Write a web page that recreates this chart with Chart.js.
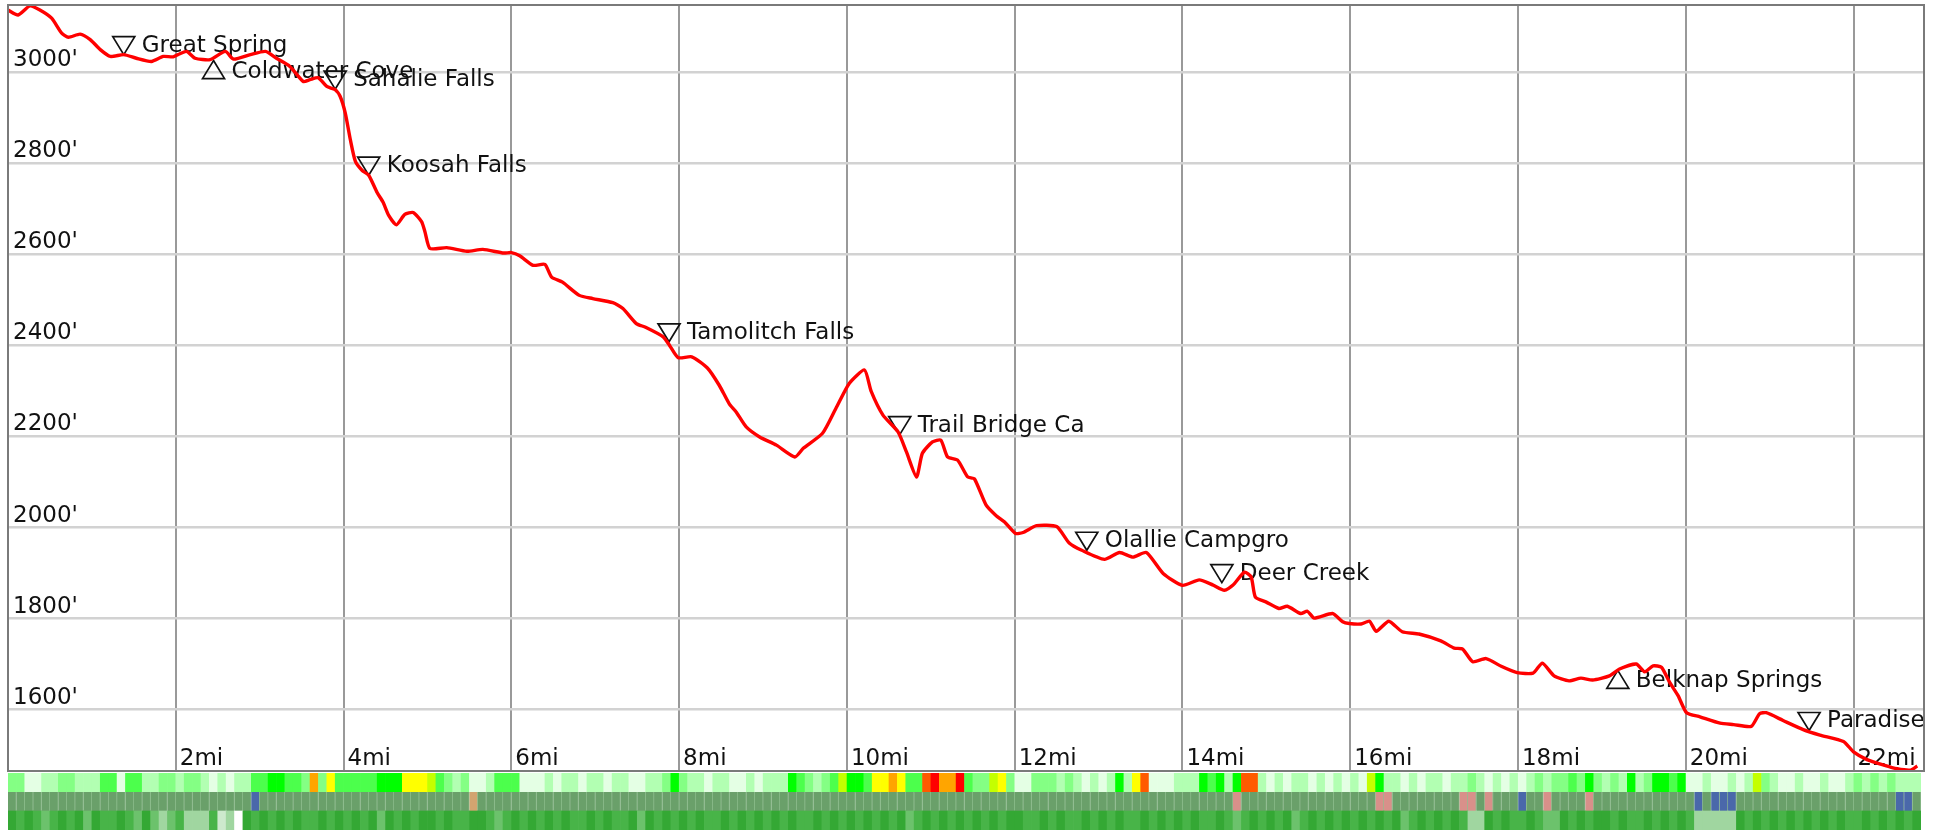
<!DOCTYPE html>
<html>
<head>
<meta charset="utf-8">
<script src="https://cdn.jsdelivr.net/npm/chart.js@4.4.1/dist/chart.umd.min.js"></script>
<style>
  html, body { margin: 0; padding: 0; background: #fff; }
  canvas { display: block; }
</style>
</head>
<body>
<canvas id="profileChart" width="1946" height="773"></canvas>
<canvas id="bandChart" width="1946" height="57"></canvas>
<script>
// elevation profile (miles, feet)
const miles = [
  0.00, 0.12, 0.26, 0.38, 0.52, 0.64, 0.72, 0.86, 0.98, 1.10, 1.22, 1.38, 1.53, 1.71, 1.85, 1.97,
  2.05, 2.13, 2.23, 2.41, 2.59, 2.69, 2.89, 3.07, 3.20, 3.36, 3.52, 3.60, 3.70, 3.80, 3.90, 3.96,
  4.02, 4.08, 4.14, 4.22, 4.30, 4.40, 4.47, 4.54, 4.63, 4.73, 4.83, 4.93, 4.97, 5.03, 5.23, 5.47,
  5.66, 5.91, 6.00, 6.10, 6.26, 6.40, 6.48, 6.61, 6.81, 6.97, 7.21, 7.33, 7.49, 7.60, 7.81, 7.89,
  7.99, 8.15, 8.34, 8.48, 8.60, 8.68, 8.80, 8.96, 9.16, 9.38, 9.48, 9.71, 9.87, 10.03, 10.21, 10.29,
  10.43, 10.61, 10.71, 10.83, 10.90, 11.02, 11.12, 11.20, 11.32, 11.44, 11.52, 11.66, 11.78, 11.88,
  12.01, 12.10, 12.26, 12.50, 12.65, 12.80, 13.07, 13.25, 13.41, 13.57, 13.77, 14.00, 14.20, 14.36,
  14.50, 14.60, 14.74, 14.82, 14.87, 15.00, 15.15, 15.25, 15.41, 15.49, 15.57, 15.79, 15.91, 15.99,
  16.13, 16.23, 16.31, 16.46, 16.62, 16.82, 17.08, 17.24, 17.34, 17.46, 17.62, 17.80, 17.99, 18.18,
  18.29, 18.43, 18.61, 18.75, 18.89, 19.09, 19.21, 19.41, 19.51, 19.61, 19.71, 19.81, 19.91, 20.01,
  20.17, 20.41, 20.57, 20.78, 20.88, 20.96, 21.16, 21.40, 21.60, 21.88, 22.00, 22.16, 22.36, 22.52,
  22.68, 22.76
];
const elevation = [
  3137, 3126, 3146, 3137, 3119, 3086, 3077, 3084, 3072, 3050, 3035, 3039, 3031, 3024, 3035, 3034,
  3041, 3046, 3031, 3028, 3046, 3029, 3039, 3046, 3031, 3013, 2980, 2984, 2988, 2969, 2962, 2947,
  2911, 2853, 2805, 2785, 2774, 2736, 2715, 2685, 2665, 2688, 2692, 2672, 2650, 2613, 2615, 2607,
  2611, 2603, 2604, 2597, 2576, 2578, 2550, 2539, 2510, 2503, 2494, 2481, 2448, 2440, 2419, 2399,
  2373, 2375, 2350, 2312, 2271, 2254, 2221, 2199, 2181, 2155, 2174, 2207, 2262, 2317, 2346, 2299,
  2247, 2210, 2166, 2111, 2163, 2188, 2192, 2155, 2148, 2111, 2107, 2049, 2026, 2012,
  1987, 1989, 2004, 2002, 1966, 1950, 1930, 1945, 1935, 1945, 1899, 1873, 1885, 1874,
  1862, 1873, 1902, 1891, 1847, 1836, 1822, 1827, 1811, 1816, 1801, 1811, 1793, 1789,
  1788, 1794, 1772, 1794, 1771, 1766, 1751, 1735, 1733, 1705, 1712, 1695, 1681, 1680,
  1702, 1674, 1663, 1669, 1665, 1674, 1689, 1700, 1683, 1696, 1693, 1659, 1630, 1593,
  1584, 1570, 1567, 1563, 1591, 1593, 1576, 1556, 1544, 1530, 1507, 1490, 1478, 1470,
  1467, 1476
];

const xTicks = [2, 4, 6, 8, 10, 12, 14, 16, 18, 20, 22];
const yTicks = [1600, 1800, 2000, 2200, 2400, 2600, 2800, 3000];

const waypointNames = ['Great Spring', 'Coldwater Cove', 'Sahalie Falls', 'Koosah Falls', 'Tamolitch Falls',
  'Trail Bridge Ca', 'Olallie Campgro', 'Deer Creek', 'Belknap Springs', 'Paradise'];
const waypointMiles = [1.38, 2.45, 3.90, 4.30, 7.88, 10.63, 12.86, 14.47, 19.19, 21.47];
const waypointElev = [3039, 3026, 2963, 2774, 2408, 2204, 1950, 1879, 1686, 1554];
const waypointUp = [false, true, false, false, false, false, false, false, true, false];

// strips under the chart, one code per 0.1 mi
const gradeCells = (
  '2200112211' + '1330331122' + '1221010113' + '3443327263' + '3333444666' + '5321200133' +
  '3000101101' + '1011001124' + '2110110010' + '1114321235' + '4436676338' + '9779322562' +
  '0022212101' + '0141680001' + '1143414881' + '0101101010' + '1054110101' + '1011210101' +
  '0121223242' + '1214124434' + '0010010152' + '1001001001' + '21212111').split('').map(Number);
const surfaceCells = (
  '0000000000' + '0000000000' + '0000000001' + '0000000000' + '0000000000' + '0000030000' +
  '0000000000' + '0000000000' + '0000000000' + '0000000000' + '0000000000' + '0000000000' +
  '0000000000' + '0000000000' + '0000002000' + '0000000000' + '0002200000' + '0002202000' +
  '1002000020' + '0000000000' + '0101110000' + '0000000000' + '00000110').split('').map(Number);
const coverCells = (
  '0101210102' + '0110120232' + '1333143501' + '0101011010' + '1010201010' + '0101100121' +
  '0101010110' + '1011020101' + '0101101010' + '1010110101' + '0101010210' + '1010101010' +
  '0110101101' + '0101101010' + '1011012101' + '0102101010' + '1010102101' + '0101330101' +
  '1012201010' + '0101101010' + '1333330101' + '0101010101' + '10101010').split('').map(Number);

const gradeColors = ['#e4ffe4', '#b2ffb2', '#84ff84', '#4cff4c', '#00ff00', '#c4ff00', '#ffff00', '#ffa500', '#ff5a00', '#ff0000'];
const surfaceColors = ['#6aa06a', '#4a68aa', '#d8908a', '#d2a470'];
const coverColors = ['#34a834', '#48b448', '#6cc26c', '#a0d6a0', '#cde9cd', '#ffffff'];

const FONT = '23px "DejaVu Sans"';

const trailLabels = {
  id: 'trailLabels',
  beforeDatasetsDraw(chart) {
    const { ctx, chartArea: a, scales: { x, y } } = chart;
    ctx.save();
    ctx.beginPath();
    ctx.rect(a.left, a.top, a.right - a.left, a.bottom - a.top);
    ctx.clip();
    ctx.font = FONT;
    ctx.fillStyle = '#111';
    ctx.textBaseline = 'alphabetic';
    yTicks.forEach(v => ctx.fillText(v + "'", a.left + 5, y.getPixelForValue(v) - 6));
    xTicks.forEach(v => ctx.fillText(v + 'mi', x.getPixelForValue(v) + 4, a.bottom - 6));

    ctx.strokeStyle = '#111';
    ctx.lineWidth = 1.7;
    waypointNames.forEach((name, i) => {
      const px = x.getPixelForValue(waypointMiles[i]);
      const py = y.getPixelForValue(waypointElev[i]);
      ctx.beginPath();
      if (waypointUp[i]) {
        ctx.moveTo(px, py);
        ctx.lineTo(px + 11, py + 18);
        ctx.lineTo(px - 11, py + 18);
      } else {
        ctx.moveTo(px, py);
        ctx.lineTo(px + 11, py - 18);
        ctx.lineTo(px - 11, py - 18);
      }
      ctx.closePath();
      ctx.stroke();
      ctx.fillText(name, px + 18, waypointUp[i] ? py + 17 : py - 3);
    });
    ctx.restore();
  },
  afterDraw(chart) {
    const { ctx, chartArea: a } = chart;
    ctx.save();
    ctx.strokeStyle = '#7a7a7a';
    ctx.lineWidth = 2;
    ctx.strokeRect(a.left, a.top, a.right - a.left, a.bottom - a.top);
    ctx.restore();
  }
};

new Chart(document.getElementById('profileChart'), {
  type: 'line',
  data: {
    datasets: [{
      data: miles.map((m, i) => ({ x: m, y: elevation[i] })),
      borderColor: '#ff0000',
      borderWidth: 3.4,
      pointRadius: 0,
      tension: 0.2,
      fill: false
    }]
  },
  options: {
    responsive: false,
    animation: false,
    layout: { padding: { left: 8, top: 5, right: 22, bottom: 2 } },
    plugins: { legend: { display: false }, tooltip: { enabled: false } },
    scales: {
      x: {
        type: 'linear', min: 0, max: 22.84,
        afterBuildTicks: s => { s.ticks = xTicks.map(v => ({ value: v })); },
        ticks: { display: false },
        grid: { color: '#999', lineWidth: 2, drawTicks: false },
        border: { display: false }
      },
      y: {
        type: 'linear', min: 1465, max: 3148,
        afterBuildTicks: s => { s.ticks = yTicks.map(v => ({ value: v })); },
        ticks: { display: false },
        grid: { color: '#d2d2d2', lineWidth: 2.5, drawTicks: false },
        border: { display: false }
      }
    }
  },
  plugins: [trailLabels]
});

const cellLabels = gradeCells.map((_, i) => (i / 10).toFixed(1));
new Chart(document.getElementById('bandChart'), {
  type: 'bar',
  data: {
    labels: cellLabels,
    datasets: [
      { data: coverCells.map(() => 1), backgroundColor: coverCells.map(c => coverColors[c]), borderWidth: 0 },
      { data: surfaceCells.map(() => 1), backgroundColor: surfaceCells.map(c => surfaceColors[c]),
        borderColor: '#8fbf8f', borderWidth: { right: 1 }, borderSkipped: false },
      { data: gradeCells.map(() => 1), backgroundColor: gradeCells.map(c => gradeColors[c]), borderWidth: 0 }
    ]
  },
  options: {
    responsive: false,
    animation: false,
    layout: { padding: { left: 8, right: 25, top: 0, bottom: 0 } },
    datasets: { bar: { barPercentage: 1, categoryPercentage: 1 } },
    plugins: { legend: { display: false }, tooltip: { enabled: false } },
    scales: {
      x: { display: false, stacked: true },
      y: { display: false, stacked: true, min: 0, max: 3 }
    }
  }
});
</script>
</body>
</html>
